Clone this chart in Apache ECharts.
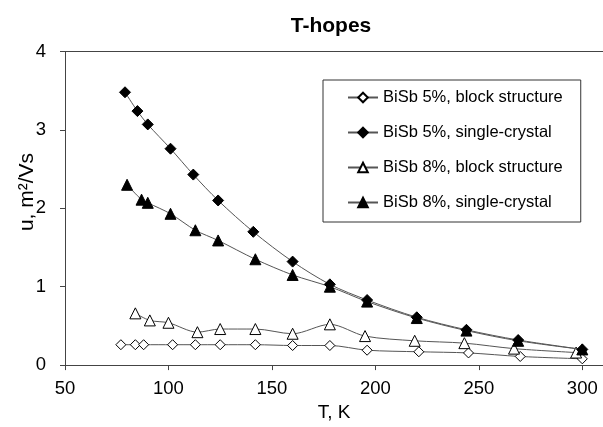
<!DOCTYPE html>
<html>
<head>
<meta charset="utf-8">
<title>T-hopes</title>
<script src="https://cdn.jsdelivr.net/npm/echarts@6/dist/echarts.min.js"></script>
<style>
  html, body { margin: 0; padding: 0; background: #fff; }
  #chart { width: 603px; height: 427px; }
</style>
</head>
<body>
<div id="chart"></div>
<script>
// Mobility u (m²/Vs) against temperature T (K) for BiSb samples
const seriesNames = [
  'BiSb 5%, block structure',
  'BiSb 5%, single-crystal',
  'BiSb 8%, block structure',
  'BiSb 8%, single-crystal'
];

const tBlock5 = [77, 84, 88, 102, 113, 125, 142, 160, 178, 196, 221, 245, 270, 300];
const uBlock5 = [0.26, 0.26, 0.26, 0.26, 0.26, 0.26, 0.26, 0.25, 0.25, 0.19, 0.17, 0.155, 0.11, 0.08];

const tSingle5 = [79, 85, 90, 101, 112, 124, 141, 160, 178, 196, 220, 244, 269, 300];
const uSingle5 = [3.48, 3.24, 3.07, 2.76, 2.43, 2.10, 1.70, 1.32, 1.03, 0.83, 0.61, 0.45, 0.32, 0.20];

const tBlock8 = [84, 91, 100, 114, 125, 142, 160, 178, 195, 219, 243, 267, 297];
const uBlock8 = [0.66, 0.57, 0.54, 0.42, 0.46, 0.46, 0.40, 0.52, 0.37, 0.31, 0.28, 0.21, 0.16];

const tSingle8 = [80, 87, 90, 101, 113, 124, 142, 160, 178, 196, 220, 244, 269, 300];
const uSingle8 = [2.30, 2.11, 2.07, 1.93, 1.72, 1.59, 1.35, 1.15, 1.00, 0.81, 0.60, 0.44, 0.31, 0.20];

const xTicks = [50, 100, 150, 200, 250, 300];
const yTicks = [0, 1, 2, 3, 4];

const FONT = '"Liberation Sans", Arial, sans-serif';
const AXIS_COLOR = '#444';

function pairs(xs, ys) {
  return xs.map((x, i) => [x, ys[i]]);
}

function makeSeries(name, xs, ys, symbol, filled, size) {
  return {
    name: name,
    type: 'line',
    data: pairs(xs, ys),
    smooth: 0.3,
    symbol: symbol,
    symbolSize: size,
    showAllSymbol: true,
    lineStyle: { color: '#555', width: 1 },
    itemStyle: {
      color: filled ? '#000' : '#fff',
      borderColor: '#000',
      borderWidth: 1
    },
    emphasis: { disabled: true },
    z: filled ? 3 : 2
  };
}

const chart = echarts.init(document.getElementById('chart'), null, { renderer: 'canvas' });

chart.setOption({
  animation: false,
  backgroundColor: '#fff',
  textStyle: { fontFamily: FONT, color: '#000' },
  title: {
    text: 'T-hopes',
    left: 326,
    top: 11,
    textAlign: 'center',
    textStyle: { fontFamily: FONT, fontSize: 21, fontWeight: 'bold', color: '#000' }
  },
  legend: {
    orient: 'vertical',
    left: 323,
    top: 80,
    padding: [9, 18, 11, 24],
    itemGap: 18,
    itemWidth: 30,
    itemHeight: 12,
    borderColor: '#333',
    borderWidth: 1,
    backgroundColor: '#fff',
    textStyle: { fontFamily: FONT, fontSize: 16.5, color: '#000' },
    data: seriesNames
  },
  grid: { left: 65, right: 0, top: 51.5, bottom: 58, containLabel: false },
  xAxis: [
    {
      type: 'value',
      min: 50,
      max: 310,
      position: 'bottom',
      name: 'T, K',
      nameLocation: 'middle',
      nameGap: 34,
      nameTextStyle: { fontFamily: FONT, fontSize: 19, color: '#000' },
      axisLine: { show: true, lineStyle: { color: AXIS_COLOR, width: 1 } },
      axisTick: { show: true, customValues: xTicks, length: 5, lineStyle: { color: AXIS_COLOR } },
      axisLabel: { customValues: xTicks, margin: 14, fontFamily: FONT, fontSize: 18.5, color: '#000' },
      splitLine: { show: false }
    },
    {
      // top frame line of the plot area
      type: 'value',
      min: 50,
      max: 310,
      position: 'top',
      axisLine: { show: true, lineStyle: { color: AXIS_COLOR, width: 1 } },
      axisTick: { show: false },
      axisLabel: { show: false },
      splitLine: { show: false }
    }
  ],
  yAxis: {
    type: 'value',
    min: 0,
    max: 4,
    interval: 1,
    axisLine: { show: true, lineStyle: { color: AXIS_COLOR, width: 1 } },
    axisTick: { show: true, customValues: yTicks, length: 5, lineStyle: { color: AXIS_COLOR } },
    axisLabel: { customValues: yTicks, margin: 19, fontFamily: FONT, fontSize: 18.5, color: '#000' },
    splitLine: { show: false }
  },
  graphic: [
    {
      // vertical axis title, set slightly above the plot's mid-height
      type: 'text',
      x: 27,
      y: 192,
      rotation: Math.PI / 2,
      style: {
        text: 'u, m²/Vs',
        fontFamily: FONT,
        fontSize: 21,
        fill: '#000',
        align: 'center',
        verticalAlign: 'middle'
      }
    }
  ],
  series: [
    makeSeries(seriesNames[0], tBlock5, uBlock5, 'diamond', false, 10),
    makeSeries(seriesNames[1], tSingle5, uSingle5, 'diamond', true, 11),
    makeSeries(seriesNames[2], tBlock8, uBlock8, 'triangle', false, 11),
    makeSeries(seriesNames[3], tSingle8, uSingle8, 'triangle', true, 11)
  ]
});
</script>
</body>
</html>
